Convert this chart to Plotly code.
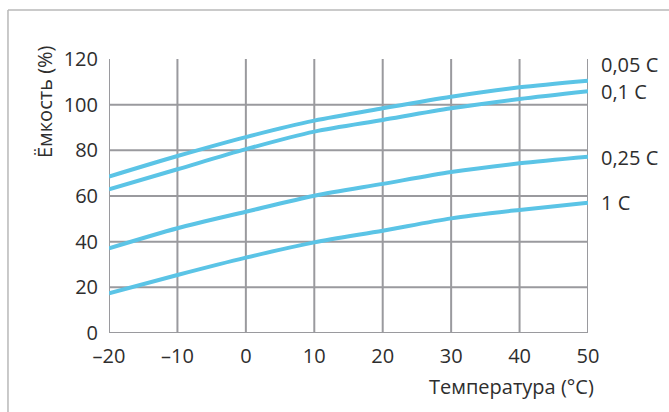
import plotly.graph_objects as go

# Temperature points (°C)
temperature = [-20, -10, 0, 10, 20, 30, 40, 50]

# Capacity (%) for each discharge rate
cap_005c = [68.5, 77.5, 85.8, 93.0, 98.4, 103.5, 107.6, 110.5]
cap_01c = [62.9, 71.7, 80.5, 88.2, 93.3, 98.4, 102.5, 105.9]
cap_025c = [37.1, 45.9, 53.1, 60.1, 65.3, 70.5, 74.3, 77.2]
cap_1c = [17.4, 25.4, 33.0, 39.7, 44.8, 50.2, 53.9, 57.1]

series_names = ["0,05 C", "0,1 C", "0,25 C", "1 C"]
series_values = [cap_005c, cap_01c, cap_025c, cap_1c]
label_y = [117.4, 105.6, 77.0, 57.0]

x_ticks = [-20, -10, 0, 10, 20, 30, 40, 50]
y_ticks = [0, 20, 40, 60, 80, 100, 120]
y_grid = [0, 20, 40, 60, 80, 100]

LINE_COLOR = "#5bc4e6"
GRID_COLOR = "#9a9a9e"
FRAME_COLOR = "#b8b8b8"
TEXT_COLOR = "#2e2e2e"
FONT = "Open Sans"
FONT_SIZE = 20

fig = go.Figure()

for name, vals in zip(series_names, series_values):
    fig.add_trace(go.Scatter(
        x=temperature, y=vals, mode="lines", name=name,
        line=dict(color=LINE_COLOR, width=4, shape="spline", smoothing=0.8),
        showlegend=False, hoverinfo="skip",
    ))

shapes = []
for xv in x_ticks:
    shapes.append(dict(type="line", xref="x", yref="y", x0=xv, x1=xv, y0=0, y1=120,
                       line=dict(color=GRID_COLOR, width=2), layer="below"))
for yv in y_grid:
    shapes.append(dict(type="line", xref="x", yref="y", x0=-20, x1=50, y0=yv, y1=yv,
                       line=dict(color=GRID_COLOR, width=2), layer="below"))

# open frame: only the top and left edges fall inside the canvas
frame_left, frame_top = -0.2109, 1.1788
shapes.append(dict(type="line", xref="paper", yref="paper",
                   x0=frame_left, x1=1.2, y0=frame_top, y1=frame_top,
                   line=dict(color=FRAME_COLOR, width=1.5), layer="below"))
shapes.append(dict(type="line", xref="paper", yref="paper",
                   x0=frame_left, x1=frame_left, y0=-0.32, y1=frame_top,
                   line=dict(color=FRAME_COLOR, width=1.5), layer="below"))

annotations = []
for name, yv in zip(series_names, label_y):
    annotations.append(dict(x=50, y=yv, xref="x", yref="y", text=name,
                            showarrow=False, xanchor="left", yanchor="middle", xshift=11,
                            font=dict(family=FONT, size=FONT_SIZE, color=TEXT_COLOR)))
annotations.append(dict(x=(511 - 109) / 479, y=(333 - 386) / 274, xref="paper", yref="paper",
                        text="Температура (°C)", showarrow=False,
                        xanchor="center", yanchor="middle",
                        font=dict(family=FONT, size=FONT_SIZE, color=TEXT_COLOR)))
annotations.append(dict(x=(44 - 109) / 479, y=(333 - 102) / 274, xref="paper", yref="paper",
                        text="Ёмкость (%)", showarrow=False, textangle=-90,
                        xanchor="center", yanchor="middle",
                        font=dict(family=FONT, size=FONT_SIZE, color=TEXT_COLOR)))

fig.update_layout(
    width=669, height=412,
    margin=dict(l=109, r=81, t=59, b=79, autoexpand=False),
    paper_bgcolor="white", plot_bgcolor="white",
    font=dict(family=FONT, size=FONT_SIZE, color=TEXT_COLOR),
    shapes=shapes, annotations=annotations,
    xaxis=dict(range=[-20, 50], tickvals=x_ticks,
               ticktext=[str(v).replace("-", "–") for v in x_ticks],
               showgrid=False, zeroline=False, showline=False,
               ticks="", ticklabelstandoff=9, fixedrange=True),
    yaxis=dict(range=[0, 120], tickvals=y_ticks,
               showgrid=False, zeroline=False, showline=False,
               ticks="", ticklabelstandoff=10, fixedrange=True),
)

fig.write_html("out.html")
